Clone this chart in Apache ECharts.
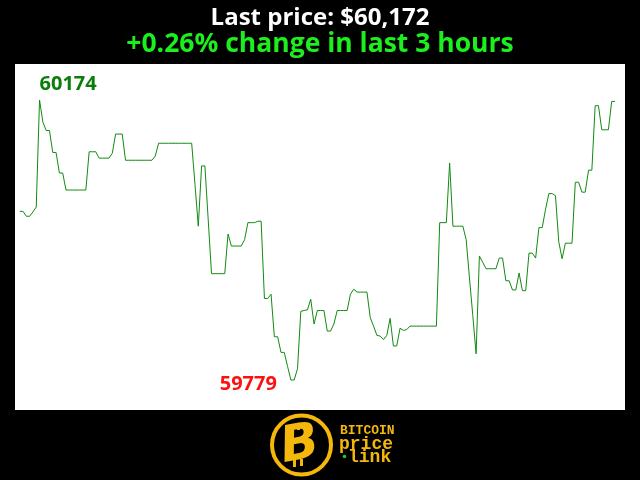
<!DOCTYPE html>
<html>
<head>
<meta charset="utf-8">
<script src="https://cdn.jsdelivr.net/npm/echarts@6/dist/echarts.min.js"></script>
<style>html,body{margin:0;padding:0;background:#000;}#c{width:640px;height:480px;}</style>
</head>
<body>
<div id="c"></div>
<script>
const titleText = 'Last price: $60,172';
const subtitleText = '+0.26% change in last 3 hours';
const prices = [
  60017, 60017, 60010, 60010, 60016, 60023, 60174, 60143, 60131, 60131,
  60100, 60100, 60071, 60071, 60047, 60047, 60047, 60047, 60047, 60047,
  60047, 60101, 60101, 60101, 60092, 60092, 60092, 60092, 60099, 60126,
  60126, 60126, 60089, 60089, 60089, 60089, 60089, 60089, 60089, 60089,
  60089, 60095, 60113, 60113, 60113, 60113, 60113, 60113, 60113, 60113,
  60113, 60113, 60113, 60055, 59996, 60081, 60081, 60005, 59929, 59929,
  59929, 59929, 59929, 59985, 59968, 59968, 59968, 59968, 59977, 60001,
  60001, 60001, 60003, 60003, 59894, 59894, 59900, 59840, 59840, 59818,
  59818, 59798, 59779, 59779, 59795, 59876, 59877, 59878, 59893, 59858,
  59877, 59877, 59877, 59848, 59848, 59858, 59877, 59877, 59877, 59877,
  59900, 59907, 59903, 59903, 59903, 59903, 59867, 59855, 59842, 59841,
  59836, 59842, 59866, 59827, 59827, 59852, 59849, 59850, 59855, 59855,
  59855, 59855, 59855, 59855, 59855, 59855, 59855, 60001, 60001, 60001,
  60085, 59996, 59996, 59996, 59996, 59977, 59923, 59870, 59816, 59954,
  59945, 59936, 59936, 59936, 59936, 59951, 59951, 59919, 59919, 59906,
  59906, 59930, 59905, 59905, 59958, 59958, 59951, 59994, 59994, 60020,
  60042, 60042, 60039, 59974, 59950, 59972, 59972, 59972, 60058, 60058,
  60044, 60044, 60075, 60075, 60166, 60166, 60132, 60132, 60132, 60172,
  60172
];
const minutes = prices.map((_, i) => String(i));

const gold = '#f4b70c';
const chart = echarts.init(document.getElementById('c'), null, {renderer: 'canvas'});
chart.setOption({
  backgroundColor: '#000000',
  animation: false,
  title: [
    {text: titleText, left: 'center', top: 1,
     textStyle: {color: '#ffffff', fontFamily: 'Open Sans', fontWeight: 'bold', fontSize: 24}},
    {text: subtitleText, left: 'center', top: 26,
     textStyle: {color: '#1cf01c', fontFamily: 'Open Sans', fontWeight: 'bold', fontSize: 26.5}}
  ],
  grid: {left: 19.7, right: 25, top: 64, bottom: 70, containLabel: false},
  xAxis: {type: 'category', data: minutes, boundaryGap: false, show: false},
  yAxis: {type: 'value', min: 59736.7, max: 60224.8, show: false, splitLine: {show: false}},
  graphic: [
    {type: 'rect', z: -10, shape: {x: 15, y: 64, width: 610, height: 346}, style: {fill: '#ffffff'}},
    {type: 'group', children: [
      {type: 'circle', shape: {cx: 301.5, cy: 445, r: 29.5}, style: {fill: '#000', stroke: gold, lineWidth: 4}},
      {type: 'rect', shape: {x: 290, y: 424, width: 3, height: 7}, style: {fill: gold}},
      {type: 'rect', shape: {x: 297, y: 423, width: 3, height: 7}, style: {fill: gold}},
      {type: 'rect', shape: {x: 293, y: 460, width: 3, height: 7}, style: {fill: gold}},
      {type: 'rect', shape: {x: 300, y: 459, width: 3, height: 7}, style: {fill: gold}},
      {type: 'text', x: 300, y: 446, rotation: 0.18,
       style: {text: 'B', fill: gold, font: 'italic bold 50px "DejaVu Sans"', align: 'center', verticalAlign: 'middle'}},
      {type: 'text', x: 340, y: 424, style: {text: 'BITCOIN', fill: gold, font: 'bold 13px "Liberation Mono"'}},
      {type: 'text', x: 339, y: 435, style: {text: 'price', fill: gold, font: 'bold 18px "Liberation Mono"'}},
      {type: 'circle', shape: {cx: 344.5, cy: 456.5, r: 1.8}, style: {fill: '#22cc22'}},
      {type: 'text', x: 348, y: 448, style: {text: 'link', fill: gold, font: 'bold 18px "Liberation Mono"'}}
    ]}
  ],
  series: [{
    type: 'line',
    data: prices,
    symbol: 'none',
    lineStyle: {color: '#128a12', width: 1},
    markPoint: {
      symbol: 'circle', symbolSize: 0,
      data: [
        {type: 'max', label: {show: true, position: [0, 0], align: 'left', verticalAlign: 'bottom', offset: [0, -6],
          color: '#0a7d0a', fontFamily: 'Open Sans', fontWeight: 'bold', fontSize: 20, formatter: '{c}'}},
        {type: 'min', label: {show: true, position: [0, 0], align: 'right', verticalAlign: 'middle', offset: [-14, 4],
          color: '#ff1010', fontFamily: 'Open Sans', fontWeight: 'bold', fontSize: 20, formatter: '{c}'}}
      ]
    }
  }]
});
</script>
</body>
</html>
